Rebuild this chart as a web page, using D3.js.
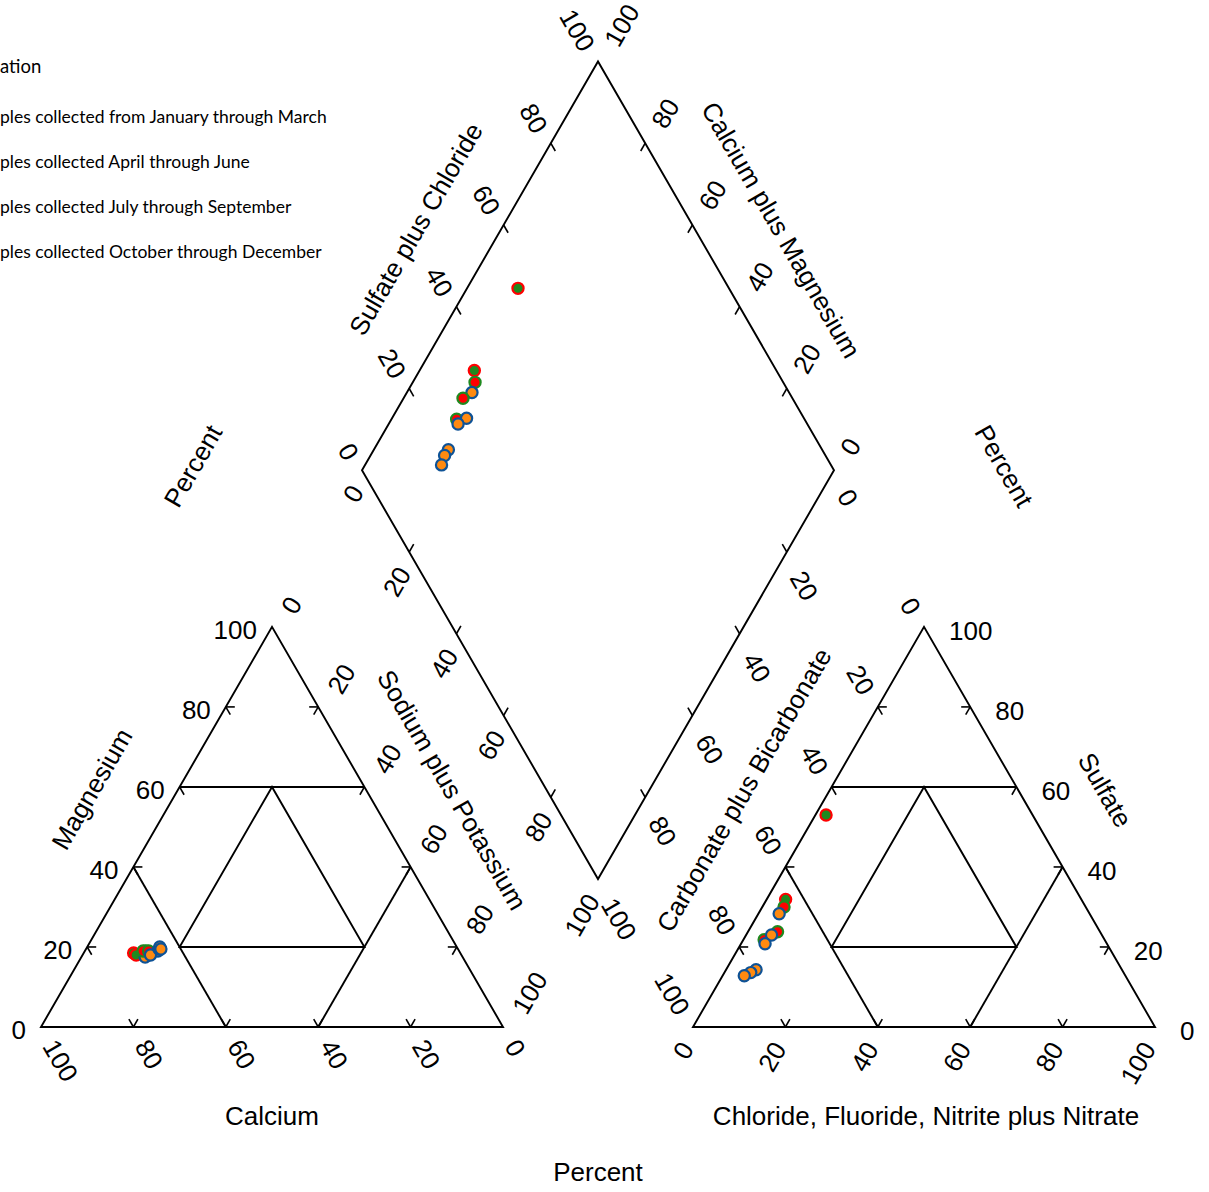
<!DOCTYPE html>
<html>
<head>
<meta charset="utf-8">
<script src="https://cdn.jsdelivr.net/npm/d3@7"></script>
<style>
  body { margin: 0; background: #fff; }
  svg { display: block; }
</style>
</head>
<body>
<svg id="stage"></svg>
<script>
/* ---------- data ---------- */

const season_names = [
  "Samples collected from January through March",
  "Samples collected April through June",
  "Samples collected July through September",
  "Samples collected October through December"
];
const season_fill = ["#1f8a1f", "#ff0000", "#ff8a10", "#0e5296"];
const season_stroke = ["#ff0000", "#1f8a1f", "#0e5296", "#ff8a10"];

// one entry per sample, percent of milliequivalents
const sample_season = [0, 0, 1, 2, 1, 1, 2, 2, 2, 2, 2];
const calcium = [70.7, 70.4, 67.8, 68.7, 68.4, 67.2, 65.2, 67.3, 64.7, 64.3, 64.3];
const magnesium = [18.5, 18.0, 19.0, 17.5, 19.0, 19.0, 19.0, 18.0, 19.5, 20.0, 19.5];
const sodium_potassium = [10.8, 11.6, 13.2, 13.8, 12.6, 13.8, 15.8, 14.7, 15.8, 15.7, 16.2];
const carbonate = [44.7, 64.0, 65.3, 67.2, 69.8, 73.7, 71.5, 74.0, 79.2, 80.7, 82.5];
const sulfate = [53.0, 31.9, 30.0, 28.3, 23.8, 21.8, 23.0, 20.8, 14.3, 13.6, 12.8];
const chloride = [2.3, 4.1, 4.7, 4.5, 6.4, 4.5, 5.5, 5.2, 6.5, 5.7, 4.7];

const tick_values = [0, 20, 40, 60, 80, 100];

/* ---------- basic setup ---------- */

const width = 1209;
const height = 1192;
const font = "'Liberation Sans', Arial, sans-serif";
const font_size = 26;
const s3 = Math.sqrt(3) / 2;

const svg = d3.select("#stage")
  .attr("width", width)
  .attr("height", height);

const frame_layer = svg.append("g");
const tick_layer = svg.append("g");
const label_layer = svg.append("g");
const point_layer = svg.append("g");
const legend_layer = svg.append("g");

/* ---------- geometry ---------- */

const side = 462;
const pct = d3.scaleLinear().domain([0, 100]).range([0, side]);
const cation_origin = [41, 1027];
const anion_origin = [693, 1027];

// right = bottom-right component, top = top component
function tern_xy(origin, right, top) {
  return [origin[0] + pct(right) + pct(top) / 2, origin[1] - pct(top) * s3];
}

const side_d = 472;
const pct_d = d3.scaleLinear().domain([0, 100]).range([0, side_d]);
const diamond_bottom = [598, 879];

// cm = calcium plus magnesium, sc = sulfate plus chloride
function diamond_xy(cm, sc) {
  return [
    diamond_bottom[0] + (pct_d(sc) - pct_d(cm)) / 2,
    diamond_bottom[1] - (pct_d(cm) + pct_d(sc)) * s3
  ];
}

const line_gen = d3.line();

function draw_path(pts, closed) {
  frame_layer.append("path")
    .attr("d", line_gen(pts) + (closed ? "Z" : ""))
    .attr("fill", "none")
    .attr("stroke", "#000")
    .attr("stroke-width", 1.9)
    .attr("stroke-linejoin", "miter");
}

/* ---------- triangles ---------- */

function draw_triangle(origin) {
  const t = (a, b, c) => tern_xy(origin, c, b);   // a left, b top, c right
  draw_path([t(100, 0, 0), t(0, 0, 100), t(0, 100, 0)], true);
  draw_path([t(40, 60, 0), t(0, 60, 40)]);
  draw_path([t(60, 40, 0), t(60, 0, 40)]);
  draw_path([t(0, 40, 60), t(40, 0, 60)]);
  draw_path([t(20, 60, 20), t(60, 20, 20), t(20, 20, 60)], true);
}

draw_triangle(cation_origin);
draw_triangle(anion_origin);

draw_path([diamond_xy(100, 0), diamond_xy(100, 100), diamond_xy(0, 100), diamond_xy(0, 0)], true);

/* ---------- axes ---------- */

const arm = 9;

function edge_axis(p_of, dir, arms, anchor, rotate, gap, nudge) {
  const inner = tick_values.filter(v => v > 0 && v < 100);
  const segs = inner.flatMap(v => arms.map(a => ({ p: p_of(v), a })));
  const off = nudge || [0, 0];

  tick_layer.append("g")
    .selectAll("line")
    .data(segs)
    .join("line")
    .attr("x1", d => d.p[0])
    .attr("y1", d => d.p[1])
    .attr("x2", d => d.p[0] + d.a[0] * arm)
    .attr("y2", d => d.p[1] + d.a[1] * arm)
    .attr("stroke", "#000")
    .attr("stroke-width", 1.6);

  label_layer.append("g")
    .selectAll("text")
    .data(tick_values)
    .join("text")
    .attr("transform", d => {
      const p = p_of(d);
      const x = p[0] + dir[0] * gap + off[0];
      const y = p[1] + dir[1] * gap + off[1];
      return `translate(${x},${y}) rotate(${rotate})`;
    })
    .attr("text-anchor", anchor)
    .attr("dominant-baseline", "central")
    .attr("font-family", font)
    .attr("font-size", font_size)
    .attr("fill", "#000")
    .text(d => d);
}

const up_l = [-0.5, -s3], up_r = [0.5, -s3], dn_l = [-0.5, s3], dn_r = [0.5, s3];

// cation: calcium bottom, magnesium left, sodium plus potassium right
edge_axis(v => tern_xy(cation_origin, 100 - v, 0), dn_r, [up_l, up_r], "start", 60, 17);
edge_axis(v => tern_xy(cation_origin, 0, v), [-1, 0], [[1, 0], dn_r], "end", 0, 15, [0, 3]);
edge_axis(v => tern_xy(cation_origin, v, 100 - v), up_r, [[-1, 0], dn_l], "start", -60, 20, [6, 2]);

// anion: carbonate left, sulfate right, chloride bottom
edge_axis(v => tern_xy(anion_origin, 0, 100 - v), up_l, [[1, 0], dn_r], "end", 60, 20, [0, 3]);
edge_axis(v => tern_xy(anion_origin, 100 - v, v), [1, 0], [[-1, 0], dn_l], "start", 0, 25, [0, 4]);
edge_axis(v => tern_xy(anion_origin, v, 0), dn_l, [up_l, up_r], "end", -60, 20, [4, 0]);

// diamond
edge_axis(v => diamond_xy(100, v), up_l, [dn_r], "end", 60, 20, [0, 5]);
edge_axis(v => diamond_xy(v, 100), up_r, [dn_l], "start", -60, 20, [3, 0]);
edge_axis(v => diamond_xy(100 - v, 0), dn_l, [up_r], "end", -60, 20, [5, 0]);
edge_axis(v => diamond_xy(0, 100 - v), dn_r, [up_l], "start", 60, 20, [0, 4]);

/* ---------- titles ---------- */

const titles = [
  { text: "Magnesium", x: 92, y: 789, r: -60 },
  { text: "Sodium plus Potassium", x: 452, y: 790, r: 60 },
  { text: "Calcium", x: 272, y: 1116, r: 0 },
  { text: "Carbonate plus Bicarbonate", x: 744, y: 790, r: -60 },
  { text: "Sulfate", x: 1105, y: 790, r: 60 },
  { text: "Chloride, Fluoride, Nitrite plus Nitrate", x: 926, y: 1116, r: 0 },
  { text: "Sulfate plus Chloride", x: 416, y: 229, r: -60 },
  { text: "Calcium plus Magnesium", x: 781, y: 230, r: 60 },
  { text: "Percent", x: 193, y: 466, r: -60 },
  { text: "Percent", x: 1004, y: 466, r: 60 },
  { text: "Percent", x: 598, y: 1172, r: 0 }
];

label_layer.append("g")
  .selectAll("text")
  .data(titles)
  .join("text")
  .attr("transform", d => `translate(${d.x},${d.y}) rotate(${d.r})`)
  .attr("text-anchor", "middle")
  .attr("dominant-baseline", "central")
  .attr("font-family", font)
  .attr("font-size", font_size)
  .text(d => d.text);

/* ---------- points ---------- */

const samples = sample_season.map((s, i) => ({
  s,
  cation: tern_xy(cation_origin, sodium_potassium[i], magnesium[i]),
  anion: tern_xy(anion_origin, chloride[i], sulfate[i]),
  diamond: diamond_xy(calcium[i] + magnesium[i], sulfate[i] + chloride[i])
}));

["cation", "anion", "diamond"].forEach(key => {
  point_layer.append("g")
    .selectAll("circle")
    .data(samples)
    .join("circle")
    .attr("cx", d => d[key][0])
    .attr("cy", d => d[key][1])
    .attr("r", 5.6)
    .attr("fill", d => season_fill[d.s])
    .attr("stroke", d => season_stroke[d.s])
    .attr("stroke-width", 2.2);
});

/* ---------- legend (runs off the left edge) ---------- */

const legend_font = "Lato, 'Open Sans', sans-serif";

const head = legend_layer.append("text")
  .attr("y", 66)
  .attr("dominant-baseline", "central")
  .attr("font-family", legend_font)
  .attr("font-size", 18.5)
  .text("Explanation");
head.attr("x", -head.node().getSubStringLength(0, 6));

const items = legend_layer.selectAll("g.item")
  .data(season_names)
  .join("g")
  .attr("class", "item");

items.append("text")
  .attr("y", (d, i) => 116 + i * 45)
  .attr("dominant-baseline", "central")
  .attr("font-family", legend_font)
  .attr("font-size", 17.5)
  .text(d => d)
  .each(function () {
    d3.select(this).attr("x", -this.getSubStringLength(0, 3));
  });

items.append("circle")
  .attr("cx", function () {
    return -this.parentNode.querySelector("text").getSubStringLength(0, 3) - 20;
  })
  .attr("cy", (d, i) => 116 + i * 45)
  .attr("r", 5.6)
  .attr("fill", (d, i) => season_fill[i])
  .attr("stroke", (d, i) => season_stroke[i])
  .attr("stroke-width", 2.2);
</script>
</body>
</html>
